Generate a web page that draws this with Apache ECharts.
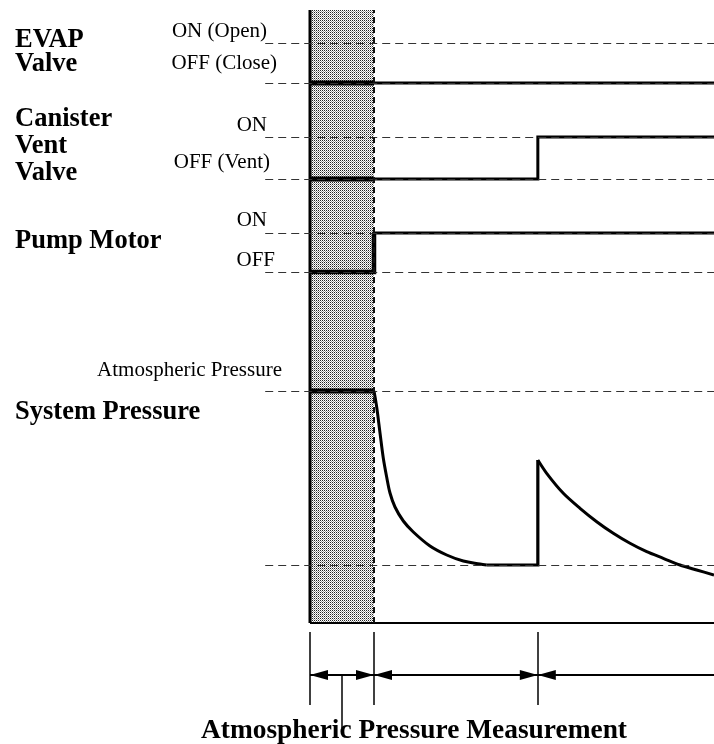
<!DOCTYPE html>
<html><head><meta charset="utf-8">
<script src="https://cdn.jsdelivr.net/npm/echarts@6/dist/echarts.min.js"></script>
<style>html,body{margin:0;padding:0;background:#fff}#c{width:714px;height:744px}</style>
</head><body><div id="c"></div>
<script>
// ---- time axis (s) ----
const xStart = -7;
const xEnd = 63.125;
const phaseTimes = [0, 10, 35.6, 63.125];   // start, pre-check end, vent switch, end
// ---- signal levels (diagram units) ----
const refLevels = [580, 540, 486, 444, 390, 351, 232, 58];
const chartTop = 613;
const chartBottom = -121;
const evapValve = [[0, 540], [63.125, 540]];
const canisterVentValve = [[0, 444], [35.6, 444], [35.6, 486], [63.125, 486]];
const pumpMotor = [[0, 351], [10, 351], [10, 390], [63.125, 390]];
const pressureHoldAtm = [[0, 232], [10, 232]];
const pressureDrop = [[10, 232], [10.42, 216], [10.94, 190], [11.45, 165], [11.98, 146], [12.5, 130], [13.28, 116], [14.58, 102], [16.14, 91], [18.75, 77], [21.36, 68], [23.95, 62], [26.56, 59], [27.6, 58]];
const pressureHoldLow = [[27.6, 58], [35.6, 58], [35.6, 163]];
const pressureRecovery = [[35.6, 163], [36.98, 149.7], [39.58, 129.7], [42.19, 114.7], [44.8, 101.3], [47.39, 89.7], [50, 79.7], [52.61, 71.3], [55.2, 64.7], [57.81, 58], [60.42, 53], [63.125, 48]];
// ---- bottom dimension marks ----
const dimY = -52;
const tickTop = -9;
const tickBottom = -82;
const pointerX = 5;
const pointerBottom = -105;
// ---- text ----
const titleLabels = ['EVAP', 'Valve', 'Canister', 'Vent', 'Valve', 'Pump Motor', 'System Pressure'];
const titleY = [40, 64, 119, 146, 173, 241, 412];
const stateLabels = ['ON (Open)', 'OFF (Close)', 'ON', 'OFF (Vent)', 'ON', 'OFF', 'Atmospheric Pressure'];
const stateRight = [267, 277, 267, 270, 267, 275, 282];
const stateY = [31, 63, 125, 162, 220, 260, 370];
const bottomCaption = 'Atmospheric Pressure Measurement';

const SERIF = '"Liberation Serif","Times New Roman",serif';

// shading pattern
const pc = document.createElement('canvas');
pc.width = 2; pc.height = 2;
const pctx = pc.getContext('2d');
pctx.fillStyle = '#fff'; pctx.fillRect(0, 0, 2, 2);
pctx.fillStyle = '#222'; pctx.fillRect(0, 0, 1, 1);
pctx.fillStyle = '#999'; pctx.fillRect(1, 1, 1, 1);

function lineSeries(data, width, extra) {
  return Object.assign({
    type: 'line', data: data, showSymbol: false, symbol: 'none', silent: true,
    animation: false, clip: false,
    lineStyle: { color: '#000', width: width, cap: 'butt', join: 'miter' }
  }, extra || {});
}
const sliceTo = (arr, xmax) => arr.filter(p => p[0] <= xmax);

const dash = { color: '#333', width: 1.2, type: [8, 5] };
const arrowHead = { symbol: ['triangle', 'triangle'], symbolSize: [10, 18], symbolOffset: [[0, 9], [0, 9]] };

const series = [
  // shaded pre-check area + reference dashed levels
  lineSeries([], 1, {
    markArea: {
      silent: true,
      itemStyle: { color: { image: pc, repeat: 'repeat' }, borderWidth: 0 },
      data: [[{ coord: [phaseTimes[0], 0] }, { coord: [phaseTimes[1], chartTop] }]]
    },
    markLine: {
      silent: true, symbol: 'none', animation: false, label: { show: false },
      lineStyle: dash,
      data: refLevels.map(v => ({ yAxis: v })).concat([
        [{ coord: [phaseTimes[2], -9], lineStyle: dash }, { coord: [phaseTimes[2], chartTop + 2] }],
        [{ coord: [phaseTimes[1], 0], lineStyle: { color: '#111', width: 2, type: [6, 4] } }, { coord: [phaseTimes[1], chartTop] }]
      ])
    }
  }),
  // frame
  lineSeries([[0, 0], [0, chartTop]], 3),
  lineSeries([[0, 0], [xEnd, 0]], 2.2),
  // signals
  lineSeries(evapValve, 3),
  lineSeries(canisterVentValve, 3),
  lineSeries(pumpMotor, 3),
  lineSeries([[0, 540], [phaseTimes[1], 540]], 5),
  lineSeries(sliceTo(canisterVentValve, phaseTimes[1]).concat([[phaseTimes[1], 444]]), 5),
  lineSeries(pumpMotor.slice(0, 3), 4.5),
  lineSeries(pressureHoldAtm, 5),
  lineSeries(pressureDrop, 3, { smooth: 0.35 }),
  lineSeries(pressureHoldLow, 3.2),
  lineSeries(pressureRecovery, 3, { smooth: 0.3 }),
  // bottom dimension lines
  lineSeries([], 1, {
    markLine: {
      silent: true, animation: false, label: { show: false },
      lineStyle: { color: '#000', width: 1.5, type: 'solid' },
      symbol: 'none',
      data: [
        [{ coord: [phaseTimes[0], tickTop] }, { coord: [phaseTimes[0], tickBottom] }],
        [{ coord: [phaseTimes[1], tickTop] }, { coord: [phaseTimes[1], tickBottom] }],
        [{ coord: [phaseTimes[2], tickTop] }, { coord: [phaseTimes[2], tickBottom] }],
        [{ coord: [pointerX, dimY] }, { coord: [pointerX, pointerBottom] }]
      ]
    }
  }),
  lineSeries([], 1, {
    markLine: Object.assign({
      silent: true, animation: false, label: { show: false },
      lineStyle: { color: '#000', width: 2, type: 'solid' },
      itemStyle: { color: '#000' },
      data: [
        [{ coord: [phaseTimes[0], dimY] }, { coord: [phaseTimes[1], dimY] }],
        [{ coord: [phaseTimes[1], dimY] }, { coord: [phaseTimes[2], dimY] }],
        [{ coord: [phaseTimes[2], dimY] }, { coord: [phaseTimes[3], dimY], symbol: 'none' }]
      ]
    }, arrowHead)
  })
];

const graphics = [];
titleLabels.forEach((t, i) => graphics.push({
  type: 'text', x: 15, y: titleY[i], silent: true,
  style: { text: t, font: 'bold 26.5px ' + SERIF, fill: '#000', verticalAlign: 'middle', align: 'left' }
}));
stateLabels.forEach((t, i) => graphics.push({
  type: 'text', x: stateRight[i], y: stateY[i], silent: true,
  style: { text: t, font: '21px ' + SERIF, fill: '#000', verticalAlign: 'middle', align: 'right' }
}));
graphics.push({
  type: 'text', x: 414, y: 731, silent: true,
  style: { text: bottomCaption, font: 'bold 27.4px ' + SERIF, fill: '#000', verticalAlign: 'middle', align: 'center' }
});

const chart = echarts.init(document.getElementById('c'), null, { renderer: 'canvas' });
chart.setOption({
  animation: false,
  backgroundColor: '#fff',
  grid: { left: 265.2, right: 0, top: 10, bottom: 0, containLabel: false },
  xAxis: { type: 'value', min: xStart, max: xEnd, show: false },
  yAxis: { type: 'value', min: chartBottom, max: chartTop, show: false },
  series: series,
  graphic: graphics
});
</script>
</body></html>
